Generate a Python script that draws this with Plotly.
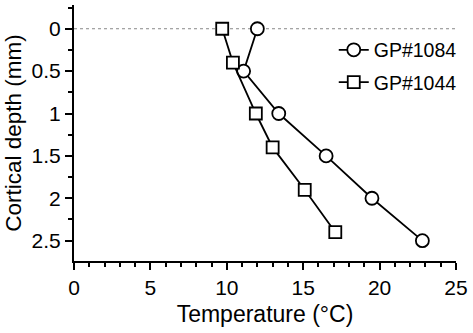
import plotly.graph_objects as go

temp_1084 = [12.0, 11.1, 13.4, 16.5, 19.5, 22.8]
depth_1084 = [0, 0.5, 1.0, 1.5, 2.0, 2.5]
temp_1044 = [9.7, 10.4, 11.9, 13.0, 15.1, 17.1]
depth_1044 = [0, 0.4, 1.0, 1.4, 1.9, 2.4]
x_ticks = [0, 5, 10, 15, 20, 25]
y_ticks = [0, 0.5, 1, 1.5, 2, 2.5]
y_tick_labels = ["0", "0.5", "1", "1.5", "2", "2.5"]

fig = go.Figure()
fig.add_trace(go.Scatter(
    x=temp_1084, y=depth_1084, name="GP#1084", mode="lines+markers", legendgroup="a",
    line=dict(color="black", width=1.8),
    marker=dict(symbol="circle", size=13, color="white", line=dict(color="black", width=1.8)),
))
fig.add_trace(go.Scatter(
    x=temp_1044, y=depth_1044, name="GP#1044", mode="lines+markers", legendgroup="b",
    line=dict(color="black", width=1.8),
    marker=dict(symbol="square", size=12, color="white", line=dict(color="black", width=1.8)),
))
fig.add_shape(type="line", xref="x", yref="y", x0=0, x1=25, y0=0, y1=0,
              line=dict(color="#888888", width=1, dash="dot"), layer="below")

font = "Liberation Sans, Arial, sans-serif"
fig.update_layout(
    width=473, height=333,
    margin=dict(l=74, r=15, t=5, b=72),
    plot_bgcolor="white", paper_bgcolor="white",
    font=dict(family=font, size=20, color="black"),
    showlegend=True,
    legend=dict(x=0.68, y=0.90, xanchor="left", yanchor="top",
                bgcolor="rgba(0,0,0,0)", font=dict(size=19.5),
                itemwidth=30, tracegroupgap=4),
    xaxis=dict(
        range=[0, 25], tickvals=x_ticks, showgrid=False, zeroline=False,
        showline=True, linecolor="black", linewidth=2,
        ticks="outside", ticklen=7, tickwidth=2, tickcolor="black",
        minor=dict(dtick=1, tick0=0, ticks="outside", ticklen=4, tickwidth=1.5, tickcolor="black"),
        tickfont=dict(size=21),
        title=dict(text="Temperature (°C)", font=dict(size=23), standoff=8),
    ),
    yaxis=dict(
        range=[2.74, -0.28], tickvals=y_ticks, ticktext=y_tick_labels,
        showgrid=False, zeroline=False,
        showline=True, linecolor="black", linewidth=2,
        ticks="outside", ticklen=7, tickwidth=2, tickcolor="black",
        minor=dict(tickvals=[-0.25, 0.25, 0.75, 1.25, 1.75, 2.25], ticks="outside", ticklen=4, tickwidth=1.5, tickcolor="black"),
        tickfont=dict(size=21),
        title=dict(text="Cortical depth (mm)", font=dict(size=22.5), standoff=4),
    ),
)
fig.write_html("out.html", config={"displayModeBar": False},
               post_script="document.body.style.margin='0';")
